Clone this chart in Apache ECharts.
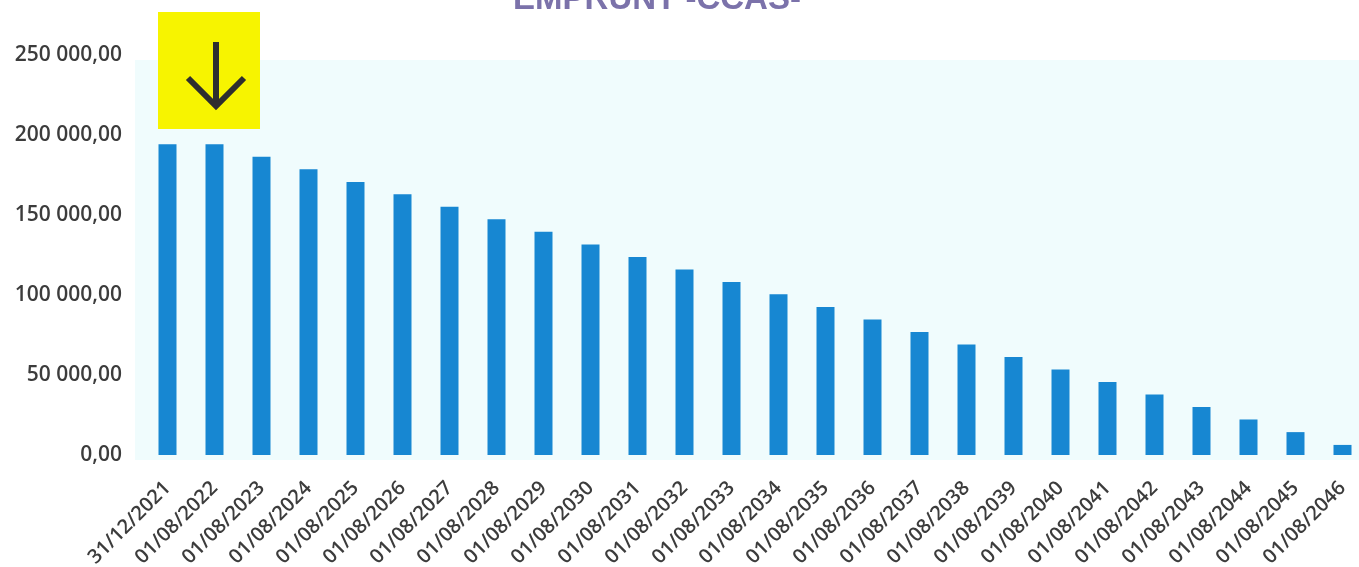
<!DOCTYPE html>
<html>
<head>
<meta charset="utf-8">
<script src="https://cdn.jsdelivr.net/npm/echarts@6/dist/echarts.min.js"></script>
<style>
html,body{margin:0;padding:0;background:#fff;}
#chart{width:1359px;height:567px;}
</style>
</head>
<body>
<div id="chart"></div>
<script>
const categories = ['31/12/2021','01/08/2022','01/08/2023','01/08/2024','01/08/2025','01/08/2026','01/08/2027','01/08/2028','01/08/2029','01/08/2030','01/08/2031','01/08/2032','01/08/2033','01/08/2034','01/08/2035','01/08/2036','01/08/2037','01/08/2038','01/08/2039','01/08/2040','01/08/2041','01/08/2042','01/08/2043','01/08/2044','01/08/2045','01/08/2046'];
const capitalRestant = [194200,194200,186400,178600,170700,162900,155100,147300,139500,131600,123800,116000,108200,100400,92500,84700,76900,69100,61300,53400,45600,37800,30000,22200,14300,6300];
const yTicks = { min: 0, max: 250000, interval: 50000 };
const titleText = 'EMPRUNT -CCAS-';

function fmt(v){
  const s = Math.round(v).toString().replace(/\B(?=(\d{3})+(?!\d))/g, ' ');
  return s + ',00';
}

const chart = echarts.init(document.getElementById('chart'), null, {renderer:'canvas'});
chart.setOption({
  animation: false,
  backgroundColor: '#ffffff',
  grid: { left: 144, top: 55, width: 1222, height: 400, containLabel: false, outerBoundsMode: 'none' },
  graphic: [
    { type:'rect', z:-10, shape:{x:135,y:60,width:1224,height:400}, style:{fill:'#f0fcfd'} },
    { type:'rect', z:10, shape:{x:158,y:12,width:102,height:117}, style:{fill:'#f7f400'} },
    { type:'polyline', z:11, shape:{points:[[216,42],[216,106]]}, style:{stroke:'#2e2e2e',lineWidth:6,fill:null} },
    { type:'polyline', z:11, shape:{points:[[188,78],[216,106],[244,78]]}, style:{stroke:'#2e2e2e',lineWidth:6,fill:null,lineJoin:'miter'} },
    { type:'text', z:12, x:657, y:0, style:{text:titleText, fill:'#7b72aa', font:'bold 33px "Liberation Sans"', align:'center', verticalAlign:'middle'} }
  ],
  xAxis: {
    type: 'category',
    data: categories,
    axisLine: { show: false },
    axisTick: { show: false },
    axisLabel: { rotate: 45, interval: 0, margin: 30, color: '#3c3c3c', fontFamily: 'Open Sans', fontWeight: 600, fontSize: 20 }
  },
  yAxis: {
    type: 'value',
    min: yTicks.min, max: yTicks.max, interval: yTicks.interval,
    axisLine: { show: false },
    axisTick: { show: false },
    splitLine: { show: false },
    axisLabel: { margin: 22, color: '#3c3c3c', fontFamily: 'Open Sans', fontWeight: 600, fontSize: 21, formatter: fmt }
  },
  series: [{
    type: 'bar',
    data: capitalRestant,
    barWidth: 18,
    itemStyle: { color: '#1787d2' }
  }]
});
</script>
</body>
</html>
